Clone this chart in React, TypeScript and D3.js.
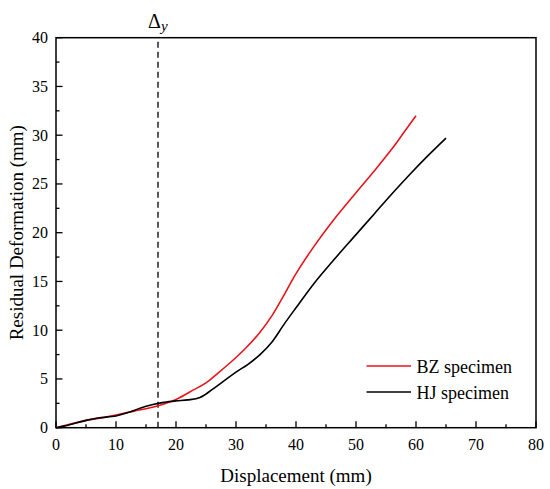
import React, { useEffect, useRef } from 'react';
import * as d3 from 'd3';

const bzDisp = [0, 2, 5, 8, 10, 13, 15, 17, 20, 23, 25, 27, 30, 32, 34, 36, 38, 40, 43, 46, 50, 53, 56, 58, 60];
const bzDef = [0, 0.3, 0.75, 1.05, 1.3, 1.7, 1.95, 2.25, 2.9, 3.9, 4.6, 5.6, 7.2, 8.4, 9.8, 11.5, 13.6, 15.8, 18.6, 21.1, 24.1, 26.3, 28.6, 30.3, 32.0];

const hjDisp = [0, 2, 5, 7, 10, 12, 14, 16, 18, 20, 22, 24, 26, 28, 30, 32, 34, 36, 38, 40, 43, 46, 50, 53, 56, 59, 62, 65];
const hjDef = [0, 0.25, 0.75, 1.0, 1.2, 1.55, 2.0, 2.35, 2.6, 2.75, 2.85, 3.1, 3.9, 4.8, 5.7, 6.5, 7.5, 8.8, 10.6, 12.3, 14.8, 17.0, 19.8, 21.9, 24.0, 26.0, 27.9, 29.7];

const xTicks = [0, 10, 20, 30, 40, 50, 60, 70, 80];
const yTicks = [0, 5, 10, 15, 20, 25, 30, 35, 40];
const yieldDisp = 17;

const seriesNames = ['BZ specimen', 'HJ specimen'];
const seriesColors = ['#e8141c', '#000000'];

const W = 550;
const H = 489;
const margin = { top: 37.7, right: 14, bottom: 61.3, left: 56 };
const font = '"Liberation Serif"';

const App: React.FC = () => {
  const svgRef = useRef<SVGSVGElement>(null);

  useEffect(() => {
    document.body.style.margin = '0';
    if (!svgRef.current) return;
    const svg = d3.select(svgRef.current);
    svg.selectAll('*').remove();

    const x = d3.scaleLinear().domain([0, 80]).range([margin.left, W - margin.right]);
    const y = d3.scaleLinear().domain([0, 40]).range([H - margin.bottom, margin.top]);

    // dashed yield line
    svg.append('line')
      .attr('x1', x(yieldDisp)).attr('x2', x(yieldDisp))
      .attr('y1', y(0)).attr('y2', y(40))
      .attr('stroke', '#000').attr('stroke-width', 1.3)
      .attr('stroke-dasharray', '6,4');

    const line = d3.line<[number, number]>()
      .x(d => x(d[0]))
      .y(d => y(d[1]))
      .curve(d3.curveCatmullRom.alpha(0.5));

    const series = [
      bzDisp.map((d, i) => [d, bzDef[i]] as [number, number]),
      hjDisp.map((d, i) => [d, hjDef[i]] as [number, number]),
    ];

    [0, 1].forEach(i => {
      svg.append('path')
        .datum(series[i])
        .attr('d', line)
        .attr('fill', 'none')
        .attr('stroke', seriesColors[i])
        .attr('stroke-width', 1.6);
    });

    // frame
    svg.append('rect')
      .attr('x', x(0)).attr('y', y(40))
      .attr('width', x(80) - x(0)).attr('height', y(0) - y(40))
      .attr('fill', 'none').attr('stroke', '#000').attr('stroke-width', 1.5);

    // x axis ticks (inward)
    const xAxis = svg.append('g');
    d3.range(0, 81, 5).forEach(v => {
      const major = v % 10 === 0;
      xAxis.append('line')
        .attr('x1', x(v)).attr('x2', x(v))
        .attr('y1', y(0)).attr('y2', y(0) - (major ? 6.5 : 3.5))
        .attr('stroke', '#000').attr('stroke-width', 1.3);
    });
    xAxis.selectAll('text.tick')
      .data(xTicks)
      .enter()
      .append('text')
      .attr('x', d => x(d))
      .attr('y', y(0) + 22)
      .attr('text-anchor', 'middle')
      .style('font-family', font)
      .style('font-size', '16px')
      .text(d => String(d));

    // y axis ticks (inward)
    const yAxis = svg.append('g');
    d3.range(0, 41, 2.5).forEach(v => {
      const major = v % 5 === 0;
      yAxis.append('line')
        .attr('x1', x(0)).attr('x2', x(0) + (major ? 6.5 : 3.5))
        .attr('y1', y(v)).attr('y2', y(v))
        .attr('stroke', '#000').attr('stroke-width', 1.3);
    });
    yAxis.selectAll('text.tick')
      .data(yTicks)
      .enter()
      .append('text')
      .attr('x', x(0) - 8)
      .attr('y', d => y(d) + 5.5)
      .attr('text-anchor', 'end')
      .style('font-family', font)
      .style('font-size', '16px')
      .text(d => String(d));

    // axis titles
    svg.append('text')
      .attr('x', (x(0) + x(80)) / 2)
      .attr('y', 481.5)
      .attr('text-anchor', 'middle')
      .style('font-family', font)
      .style('font-size', '19px')
      .text('Displacement (mm)');

    svg.append('text')
      .attr('transform', `translate(23,${(y(0) + y(40)) / 2}) rotate(-90)`)
      .attr('text-anchor', 'middle')
      .style('font-family', font)
      .style('font-size', '19px')
      .text('Residual Deformation (mm)');

    // yield label
    const dl = svg.append('text')
      .attr('x', x(yieldDisp) - 10)
      .attr('y', 28)
      .style('font-family', font)
      .style('font-size', '20px');
    dl.append('tspan').text('Δ');
    dl.append('tspan')
      .style('font-family', font)
      .style('font-size', '15px')
      .style('font-style', 'italic')
      .attr('dy', 3)
      .text('y');

    // legend
    const legY = [366, 392];
    seriesNames.forEach((name, i) => {
      svg.append('line')
        .attr('x1', 366.5).attr('x2', 411)
        .attr('y1', legY[i]).attr('y2', legY[i])
        .attr('stroke', seriesColors[i]).attr('stroke-width', 1.6);
      svg.append('text')
        .attr('x', 416.5)
        .attr('y', legY[i] + 7)
        .style('font-family', font)
        .style('font-size', '18px')
        .text(name);
    });
  }, []);

  return (
    <div style={{ width: W, height: H, background: '#fff' }}>
      <svg ref={svgRef} width={W} height={H} />
    </div>
  );
};

export default App;
